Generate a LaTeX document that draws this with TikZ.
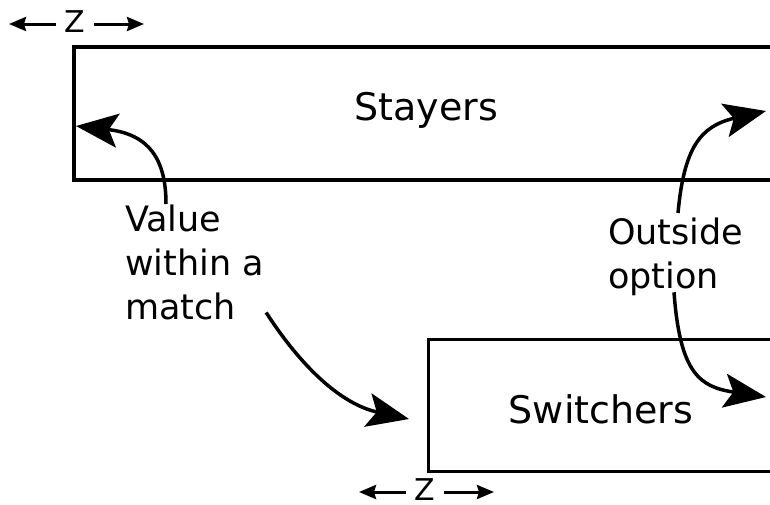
\documentclass[tikz,border=0pt]{standalone}
\usepackage{fontspec}
\setmainfont{DejaVu Sans}
\usetikzlibrary{arrows.meta}

\begin{document}
\begin{tikzpicture}[x=1pt, y=-1pt,
    box/.style={draw, line width=3.5pt, anchor=north west, inner sep=0pt},
    boxlabel/.style={font=\fontsize{38}{44}\selectfont, anchor=base, inner sep=0pt},
    note/.style={font=\fontsize{35}{44}\selectfont, align=left, anchor=north west, inner sep=0pt},
    bendarrow/.style={line width=3.5pt, -{Stealth[length=42pt,width=34pt,inset=9pt]}},
    zlabel/.style={font=\fontsize{30}{32}\selectfont, inner xsep=8.5pt, inner ysep=0pt},
    zarrow/.style={line width=3pt, -{Stealth[length=17pt,width=14pt,inset=2pt]}}]
    \useasboundingbox (0,0) rectangle (770,504);
    \clip (0,0) rectangle (770,504);

    % the two groups
    \node[box, minimum width=800pt, minimum height=133pt] (stayersbox) at (72,45) {};
    \node[box, line width=2.5pt, minimum width=500pt, minimum height=132pt] (switchersbox) at (427,338) {};
    \node[boxlabel] (stayers) at (426,120) {Stayers};
    \node[boxlabel] (switchers) at (601,423) {Switchers};

    % labels
    \node[note] (within) at (125,205) {Value\\within a\\match};
    \node[note] (outside) at (608,218) {Outside\\option};

    % arrow tips
    \coordinate (stayersin) at (76,126);
    \coordinate (switchersin) at (409,419);
    \coordinate (stayersout) at (766,111);
    \coordinate (switchersout) at (766,397);

    \draw[bendarrow] ([shift={(41pt,1pt)}]within.north west) .. controls (166,158) and (148,134) .. (stayersin);
    \draw[bendarrow] ([shift={(2pt,8pt)}]within.south east) .. controls (300,365) and (340,404) .. (switchersin);
    \draw[bendarrow] ([shift={(70pt,5pt)}]outside.north west) .. controls (684,148) and (700,126) .. (stayersout);
    \draw[bendarrow] ([shift={(66pt,4pt)}]outside.south west) .. controls (680,374) and (700,387) .. (switchersout);

    % widths z
    \node[zlabel] (ztop) at (75,22) {Z};
    \coordinate (ztopl) at (9,24);
    \coordinate (ztopr) at (144,24);
    \draw[zarrow] (ztop.west |- ztopl) -- (ztopl);
    \draw[zarrow] (ztop.east |- ztopr) -- (ztopr);

    \node[zlabel] (zbot) at (425,490) {Z};
    \coordinate (zbotl) at (359,492);
    \coordinate (zbotr) at (494,492);
    \draw[zarrow] (zbot.west |- zbotl) -- (zbotl);
    \draw[zarrow] (zbot.east |- zbotr) -- (zbotr);
\end{tikzpicture}
\end{document}
